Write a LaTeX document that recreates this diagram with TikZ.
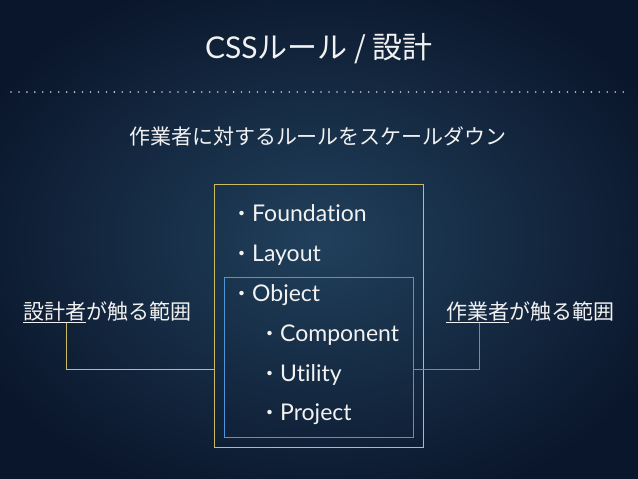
\documentclass[tikz,border=0pt]{standalone}
\usepackage{fontspec}
\setmainfont{Lato}[Ligatures=NoCommon]
\newfontfamily\jp{Noto Sans CJK JP}
\usetikzlibrary{calc}
\definecolor{bgin}{HTML}{21405C}
\definecolor{bgout}{HTML}{0A162B}
\definecolor{ylw}{HTML}{CDBB62}
\definecolor{blu}{HTML}{4D95DC}
\definecolor{txt}{HTML}{F2F2F2}
\tikzset{
  lbl/.style={inner sep=0pt, text=txt, font=\jp\fontsize{21}{25}\selectfont},
  item/.style={inner sep=0pt, text=txt, anchor=base west, font=\fontsize{23}{27}\selectfont},
  ybox/.style={draw=ylw, line width=0.9pt, inner sep=0pt},
  bbox/.style={draw=blu, line width=0.9pt, inner sep=0pt},
  uline/.style={draw=txt, line width=1pt},
}
\newcommand{\bul}{{\jp\fontsize{21}{25}\selectfont ・}}
\begin{document}
\begin{tikzpicture}[x=1pt,y=-1pt]
\useasboundingbox (0,0) rectangle (638,479);
\shade[inner color=bgin, outer color=bgout] (-60,-40) rectangle (698,519);
% title
\node[inner sep=0pt, text=txt, anchor=base, font=\fontsize{30}{34}\selectfont] (title) at (319,58) {CSS{\jp ルール / 設計}};
% dotted rule
\coordinate (dl) at (11,92);
\coordinate (dr) at (630,92);
\draw[draw=txt!80!bgin, line width=1.8pt, line cap=round, dash pattern=on 0pt off 7.95pt] (dl) -- (dr);
% subtitle
\node[lbl, anchor=base] (sub) at (318,144.5) {作業者に対するルールをスケールダウン};
% boxes
\node[ybox, minimum width=209pt, minimum height=263pt] (yb) at (318.5,315.5) {};
\node[bbox, minimum width=189pt, minimum height=160pt] (bb) at (318.5,357) {};
% items
\node[item] (i1) at (231,221) {\bul Foundation};
\node[item] (i2) at (231,261) {\bul Layout};
\node[item] (i3) at (231,301) {\bul Object};
\node[item] (i4) at (259,341) {\bul Component};
\node[item] (i5) at (259,381) {\bul Utility};
\node[item] (i6) at (259,420) {\bul Project};
% left label
\node[lbl, anchor=base west] (lname) at (23,319.5) {設計者};
\node[lbl, anchor=base west] (lrest) at (lname.base east) {が触る範囲};
\coordinate (lu1) at ($(lname.base west)+(0,3)$);
\coordinate (lu2) at ($(lname.base east)+(0,3)$);
\draw[uline] (lu1) -- (lu2);
\coordinate (lc) at ($(lu1)!0.685!(lu2)$);
\coordinate (ly) at (0,369);
\draw[draw=ylw, line width=0.9pt] (lc) |- (yb.west |- ly);
% right label
\node[lbl, anchor=base west] (rname) at (446,319.5) {作業者};
\node[lbl, anchor=base west] (rrest) at (rname.base east) {が触る範囲};
\coordinate (ru1) at ($(rname.base west)+(0,3)$);
\coordinate (ru2) at ($(rname.base east)+(0,3)$);
\draw[uline] (ru1) -- (ru2);
\coordinate (rc) at ($(ru1)!0.52!(ru2)$);
\draw[draw=blu, line width=0.9pt] (rc) |- (bb.east |- ly);
\end{tikzpicture}
\end{document}
